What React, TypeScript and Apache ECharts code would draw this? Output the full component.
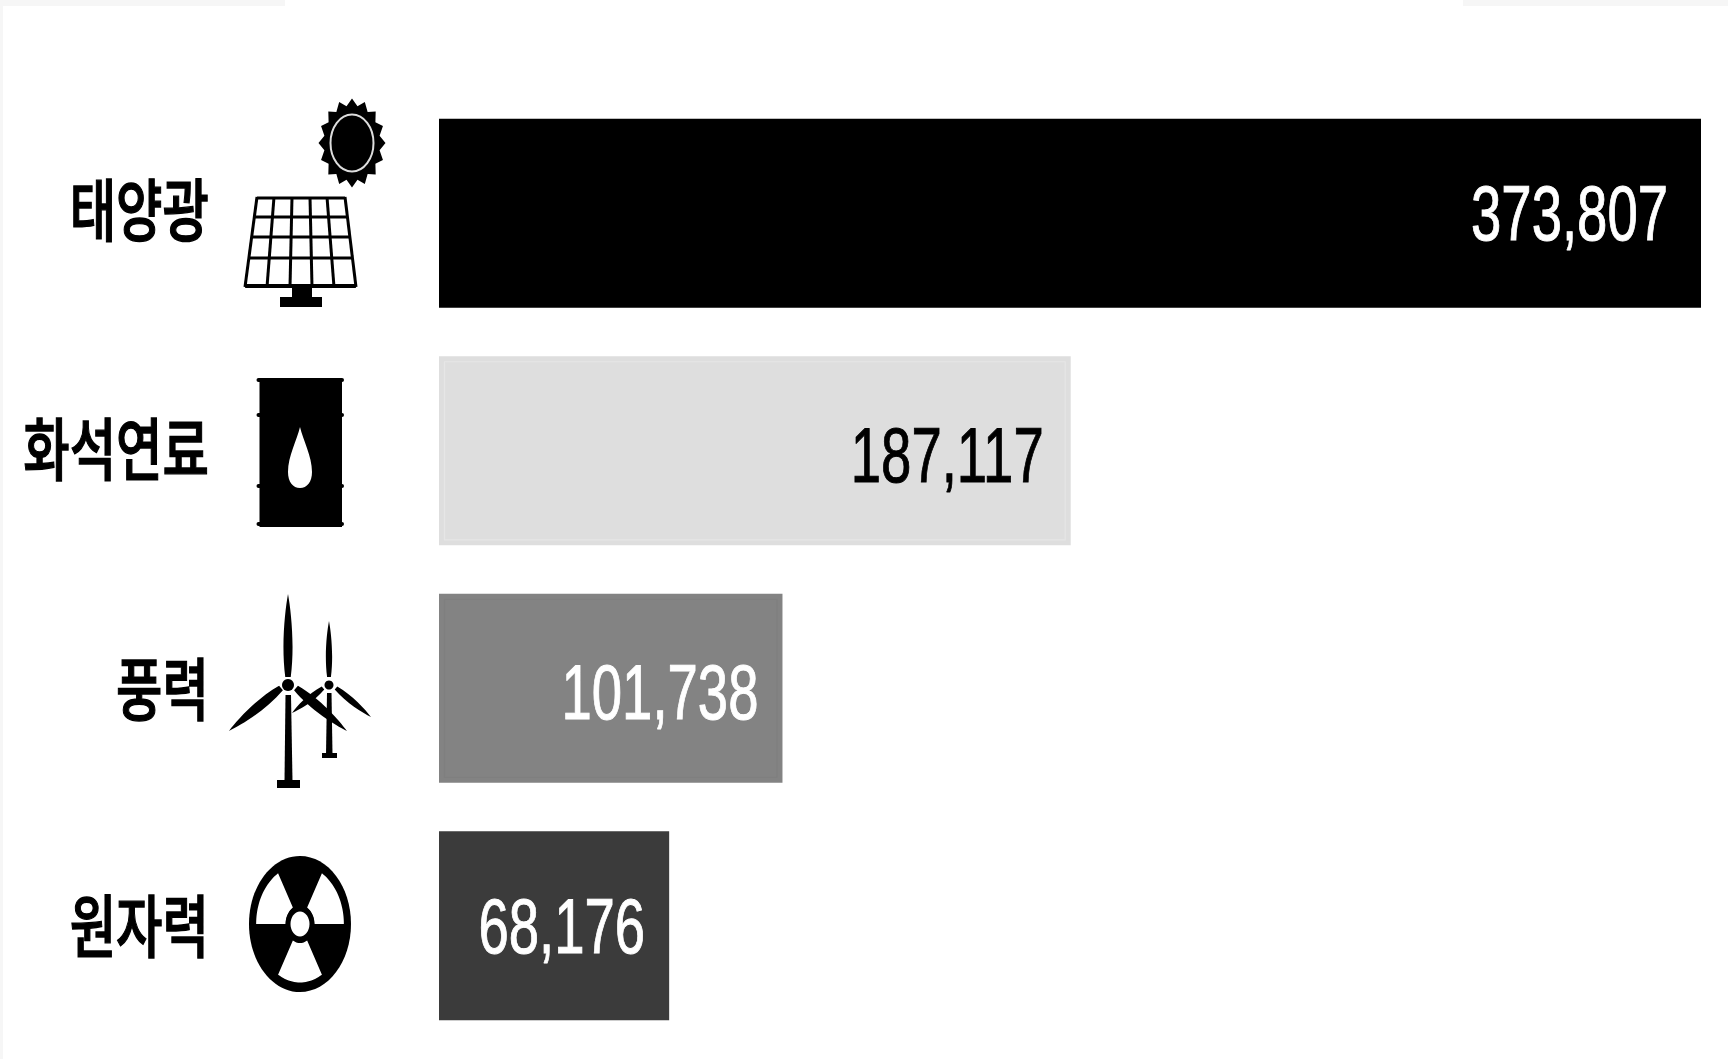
import React, { useEffect, useRef } from "react";
import * as echarts from "echarts";

const categories = ["태양광", "화석연료", "풍력", "원자력"];
const values = [373807, 187117, 101738, 68176];
const barColors = ["#000000", "#dedede", "#838383", "#3b3b3b"];
const barInsetColors = ["none", "#e6e6e6", "#7f7f7f", "none"];
const valueTextColors = ["#ffffff", "#000000", "#ffffff", "#ffffff"];
const valueInsets = [33, 27, 24, 24];
const valueShifts = [-1, 4, 3, 0];
const nameShifts = [-7, -5, -3, -3];

const KOREAN_FONT = '"Noto Sans CJK KR", "Noto Sans", sans-serif';
const NUMBER_FONT = '"Liberation Sans", Arial, sans-serif';

const ellipsePoints = (cx: number, cy: number, rx: number, ry: number, fromDeg: number, toDeg: number, steps = 24) => {
  const pts: number[][] = [];
  for (let i = 0; i <= steps; i++) {
    const a = ((fromDeg + ((toDeg - fromDeg) * i) / steps) * Math.PI) / 180;
    pts.push([cx + rx * Math.cos(a), cy - ry * Math.sin(a)]);
  }
  return pts;
};

const blade = (tx: number, ty: number, bx: number, by: number, belly: number) => {
  // A tapered turbine blade running from its tip to the hub end.
  const dx = bx - tx;
  const dy = by - ty;
  const len = Math.hypot(dx, dy);
  const nx = -dy / len;
  const ny = dx / len;
  const mx = tx + dx * 0.62;
  const my = ty + dy * 0.62;
  const hx = tx + dx * 0.2;
  const hy = ty + dy * 0.2;
  const side = (s: number) =>
    `${hx + s * nx * belly * 0.55} ${hy + s * ny * belly * 0.55} ${mx + s * nx * belly * 1.25} ${my + s * ny * belly * 1.25} ${bx + s * nx * belly * 0.5} ${by + s * ny * belly * 0.5}`;
  const back = `${mx - nx * belly * 1.25} ${my - ny * belly * 1.25} ${hx - nx * belly * 0.55} ${hy - ny * belly * 0.55} ${tx} ${ty}`;
  return `M${tx} ${ty} C${side(1)} L${bx - nx * belly * 0.5} ${by - ny * belly * 0.5} C${back} Z`;
};

echarts.graphic.registerShape(
  "turbineBlades",
  echarts.graphic.extendPath(
    [
      blade(288, 594, 288, 677, 5.5),
      blade(229, 731, 281, 688, 6),
      blade(347, 731, 296, 688, 6),
      blade(329, 621, 329, 677, 3.8),
      blade(292, 713, 323, 688, 4),
      blade(371, 717, 336, 688, 4),
    ].join(" "),
    {}
  )
);
echarts.graphic.registerShape(
  "oilDrop",
  echarts.graphic.extendPath("M300 427 C303 440 312 456 312 472 C312 482 307 488 300 488 C293 488 288 482 288 472 C288 456 297 440 300 427 Z", {})
);

const sunRays = () => {
  const pts: number[][] = [];
  const n = 16;
  for (let i = 0; i < n * 2; i++) {
    const a = (i * Math.PI) / n;
    const k = i % 2 === 0 ? 1 : 0.84;
    pts.push([352 + 33.5 * k * Math.sin(a), 143 - 44.5 * k * Math.cos(a)]);
  }
  return pts;
};

const black = { fill: "#000000" };

const solarIcon = () => {
  const topX = [257, 274, 292, 310, 327, 345];
  const bottomX = [245, 267, 290, 312, 334, 356];
  const rows = [217, 237, 258];
  const at = (x0: number, x1: number, y: number) => x0 + ((x1 - x0) * (y - 197)) / 90;
  return [
    { type: "polygon", shape: { points: sunRays() }, style: black },
    { type: "ellipse", shape: { cx: 352, cy: 143, rx: 21.5, ry: 28.5 }, style: { fill: "#000000", stroke: "#dddddd", lineWidth: 2 } },
    ...topX.map((x, i) => ({
      type: "line",
      shape: { x1: x, y1: 197, x2: bottomX[i], y2: 287 },
      style: { stroke: "#000000", lineWidth: 3 },
    })),
    ...[198, ...rows, 286].map((y) => ({
      type: "line",
      shape: { x1: at(257, 245, y), y1: y, x2: at(345, 356, y), y2: y },
      style: { stroke: "#000000", lineWidth: y === 286 ? 4 : 3 },
    })),
    { type: "rect", shape: { x: 292, y: 287, width: 20, height: 12 }, style: black },
    { type: "rect", shape: { x: 280, y: 297, width: 42, height: 10 }, style: black },
  ];
};

const barrelIcon = () => [
  { type: "rect", shape: { x: 259.5, y: 378, width: 82.5, height: 149 }, style: black },
  ...[380, 415, 486, 524].map((y) => ({
    type: "rect",
    shape: { x: 256.5, y: y - 2, width: 87.5, height: 4, r: 2 },
    style: black,
  })),
  { type: "oilDrop", x: 0, y: 0, style: { fill: "#ffffff" } },
];

const windIcon = () => [
  { type: "turbineBlades", x: 0, y: 0, style: black },
  { type: "polygon", shape: { points: [[327, 693], [331.5, 693], [332.5, 754], [326, 754]] }, style: black },
  { type: "rect", shape: { x: 322, y: 753, width: 15, height: 5 }, style: black },
  { type: "circle", shape: { cx: 329, cy: 685, r: 4.5 }, style: black },
  { type: "polygon", shape: { points: [[285.5, 695], [291, 695], [292.5, 781], [284.5, 781]] }, style: black },
  { type: "rect", shape: { x: 277, y: 780, width: 23, height: 8 }, style: black },
  { type: "circle", shape: { cx: 288, cy: 685, r: 6 }, style: black },
];

const nuclearIcon = () => {
  const cx = 300;
  const cy = 924;
  const rx = 51;
  const ry = 68;
  const wedge = (from: number, to: number) => ({
    type: "polygon",
    shape: {
      points: [
        ...ellipsePoints(cx, cy, rx * 0.86, ry * 0.86, from, to),
        ...ellipsePoints(cx, cy, rx * 0.28, ry * 0.28, to, from, 8),
      ],
    },
    style: { fill: "#ffffff" },
  });
  return [
    { type: "ellipse", shape: { cx, cy, rx, ry }, style: black },
    wedge(0, 60),
    wedge(120, 180),
    wedge(240, 300),
    { type: "ellipse", shape: { cx, cy, rx: 14.5, ry: 18 }, style: black },
    { type: "ellipse", shape: { cx, cy, rx: 9.5, ry: 12.5 }, style: { fill: "#ffffff" } },
  ];
};

export default function App() {
  const ref = useRef<HTMLDivElement>(null);

  useEffect(() => {
    if (!ref.current) return;
    const chart = echarts.init(ref.current, undefined, { renderer: "svg" });
    const rows = values.map((v, i) => [v, i]);

    chart.setOption({
      animation: false,
      backgroundColor: "#ffffff",
      grid: { left: 439, right: 27, top: 94.5, bottom: 14.5, containLabel: false },
      xAxis: { type: "value", min: 0, max: 373807, show: false },
      yAxis: {
        type: "category",
        inverse: true,
        data: categories,
        axisLine: { show: false },
        axisTick: { show: false },
        axisLabel: { show: false },
      },
      series: [
        {
          type: "bar",
          barCategoryGap: "20.4%",
          silent: true,
          data: values.map((value, i) => ({ value, itemStyle: { color: barColors[i] } })),
        },
        {
          // Thin keyline just inside each bar's edge.
          type: "custom",
          silent: true,
          z: 4,
          encode: { x: 0, y: 1 },
          data: rows,
          renderItem: (_: unknown, api: any) => {
            const i = api.value(1);
            const [x0, y] = api.coord([0, i]);
            const [x1] = api.coord([api.value(0), i]);
            const height = api.size([0, 1])[1] * 0.796;
            return {
              type: "rect",
              shape: { x: x0 + 5.5, y: y - height / 2 + 5.5, width: x1 - x0 - 11, height: height - 11 },
              style: { fill: "none", stroke: barInsetColors[i], lineWidth: 1.2 },
            };
          },
        },
        {
          // Value labels, narrowed to the tall proportions of the bars' numerals.
          type: "custom",
          silent: true,
          z: 5,
          encode: { x: 0, y: 1 },
          data: rows,
          renderItem: (_: unknown, api: any) => {
            const i = api.value(1);
            const [x, y] = api.coord([api.value(0), i]);
            return {
              type: "text",
              x: x - valueInsets[i],
              y: y + valueShifts[i],
              scaleY: 1.44,
              style: {
                text: values[i].toLocaleString("en-US"),
                fill: valueTextColors[i],
                stroke: valueTextColors[i],
                lineWidth: 0.7,
                font: `400 54.5px ${NUMBER_FONT}`,
                align: "right",
                verticalAlign: "middle",
              },
            };
          },
        },
        {
          // Category names sit left of the icon column.
          type: "custom",
          silent: true,
          z: 5,
          encode: { x: 0, y: 1 },
          data: rows,
          renderItem: (_: unknown, api: any) => {
            const i = api.value(1);
            const [x, y] = api.coord([0, i]);
            return {
              type: "text",
              x: x - 230,
              y: y + nameShifts[i],
              scaleY: 1.34,
              style: {
                text: categories[i],
                fill: "#000000",
                stroke: "#000000",
                lineWidth: 1,
                font: `500 50.5px ${KOREAN_FONT}`,
                align: "right",
                verticalAlign: "middle",
              },
            };
          },
        },
      ],
      graphic: [
        { type: "group", silent: true, children: solarIcon() },
        { type: "group", silent: true, children: barrelIcon() },
        { type: "group", silent: true, children: windIcon() },
        { type: "group", silent: true, children: nuclearIcon() },
        { type: "rect", silent: true, shape: { x: 0, y: 0, width: 3, height: 1059 }, style: { fill: "#f6f6f6" } },
        { type: "rect", silent: true, shape: { x: 0, y: 0, width: 285, height: 6 }, style: { fill: "#f6f6f6" } },
        { type: "rect", silent: true, shape: { x: 1463, y: 0, width: 265, height: 6 }, style: { fill: "#f6f6f6" } },
      ],
    });

    return () => chart.dispose();
  }, []);

  return <div ref={ref} style={{ position: "fixed", left: 0, top: 0, width: 1728, height: 1059 }} />;
}
